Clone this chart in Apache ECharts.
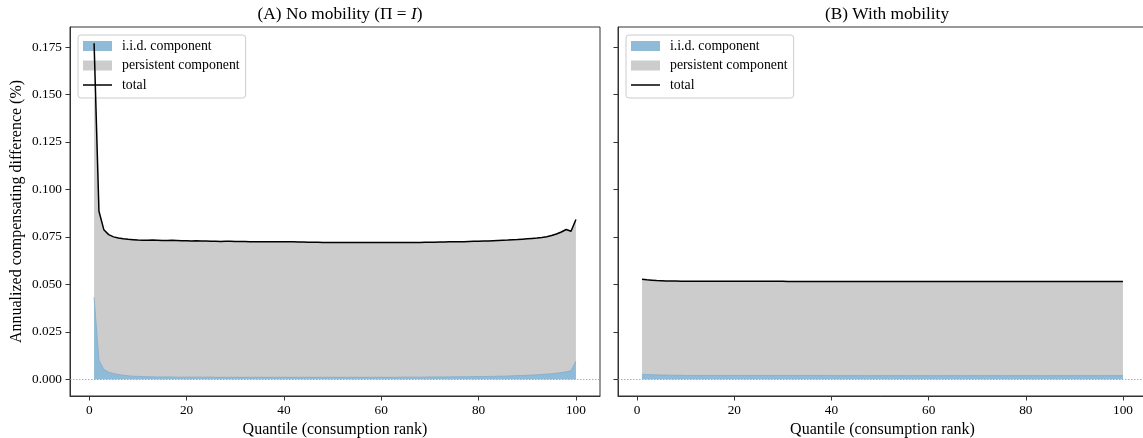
<!DOCTYPE html>
<html>
<head>
<meta charset="utf-8">
<script src="https://cdn.jsdelivr.net/npm/echarts@6/dist/echarts.min.js"></script>
<style>html,body{margin:0;padding:0;background:#fff;overflow:hidden}#c{width:1143px;height:438px}</style>
</head>
<body>
<div id="c"></div>
<script>
const quantiles = [1,2,3,4,5,6,7,8,9,10,11,12,13,14,15,16,17,18,19,20,21,22,23,24,25,26,27,28,29,30,31,32,33,34,35,36,37,38,39,40,41,42,43,44,45,46,47,48,49,50,51,52,53,54,55,56,57,58,59,60,61,62,63,64,65,66,67,68,69,70,71,72,73,74,75,76,77,78,79,80,81,82,83,84,85,86,87,88,89,90,91,92,93,94,95,96,97,98,99,100];

const leftTotal = [0.1770,0.0885,0.0788,0.0762,0.0750,0.0744,0.0740,0.0737,0.0735,0.0733,
0.0732,0.0732,0.0733,0.0732,0.0731,0.0731,0.0732,0.0731,0.0730,0.0730,
0.0729,0.0730,0.0729,0.0728,0.0727,0.0727,0.0726,0.0727,0.0727,0.0726,
0.0726,0.0726,0.0725,0.0724,0.0724,0.0725,0.0725,0.0725,0.0725,0.0725,
0.0724,0.0724,0.0723,0.0723,0.0722,0.0722,0.0722,0.0721,0.0721,0.0721,
0.0720,0.0720,0.0720,0.0720,0.0720,0.0720,0.0720,0.0720,0.0720,0.0720,
0.0720,0.0720,0.0720,0.0720,0.0721,0.0721,0.0721,0.0721,0.0722,0.0722,
0.0722,0.0723,0.0723,0.0724,0.0724,0.0725,0.0725,0.0726,0.0727,0.0727,
0.0728,0.0729,0.0730,0.0731,0.0732,0.0733,0.0735,0.0736,0.0738,0.0740,
0.0742,0.0744,0.0747,0.0751,0.0757,0.0765,0.0776,0.0789,0.0780,0.0842];

const leftIid = [0.0432,0.0100,0.0052,0.0037,0.0030,0.0025,0.0021,0.0018,0.0016,0.0015,
0.0014,0.0013,0.0013,0.0012,0.0012,0.0012,0.0012,0.0011,0.0011,0.0011,
0.0011,0.0011,0.0011,0.0011,0.0011,0.0010,0.0010,0.0010,0.0010,0.0010,
0.0010,0.0010,0.0010,0.0010,0.0010,0.0010,0.0010,0.0010,0.0010,0.0010,
0.0010,0.0010,0.0010,0.0010,0.0010,0.0010,0.0010,0.0010,0.0010,0.0010,
0.0010,0.0010,0.0010,0.0010,0.0010,0.0010,0.0010,0.0010,0.0010,0.0010,
0.0010,0.0010,0.0010,0.0011,0.0011,0.0011,0.0011,0.0011,0.0011,0.0012,
0.0012,0.0012,0.0012,0.0012,0.0013,0.0013,0.0013,0.0013,0.0014,0.0014,
0.0014,0.0015,0.0015,0.0016,0.0016,0.0017,0.0018,0.0019,0.0020,0.0021,
0.0022,0.0023,0.0025,0.0027,0.0029,0.0032,0.0035,0.0039,0.0045,0.0096];

const rightTotal = [0.0527,0.0524,0.0522,0.0520,0.0519,0.0518,0.0517,0.0517,0.0516,0.0516,
0.0516,0.0516,0.0516,0.0516,0.0516,0.0516,0.0516,0.0516,0.0516,0.0516,
0.0516,0.0516,0.0516,0.0516,0.0516,0.0516,0.0516,0.0516,0.0516,0.0516,
0.0515,0.0515,0.0515,0.0515,0.0515,0.0515,0.0515,0.0515,0.0515,0.0515,
0.0515,0.0515,0.0515,0.0515,0.0515,0.0515,0.0515,0.0515,0.0515,0.0515,
0.0515,0.0515,0.0515,0.0515,0.0515,0.0515,0.0515,0.0515,0.0515,0.0515,
0.0515,0.0515,0.0515,0.0515,0.0515,0.0515,0.0515,0.0515,0.0515,0.0515,
0.0515,0.0515,0.0515,0.0515,0.0515,0.0515,0.0515,0.0515,0.0515,0.0515,
0.0515,0.0515,0.0515,0.0515,0.0515,0.0515,0.0515,0.0515,0.0515,0.0515,
0.0515,0.0515,0.0515,0.0515,0.0515,0.0515,0.0515,0.0515,0.0515,0.0515];

const rightIid = [0.0026,0.0025,0.0024,0.0023,0.0022,0.0022,0.0021,0.0021,0.0021,0.0020,
0.0020,0.0020,0.0020,0.0020,0.0020,0.0020,0.0020,0.0020,0.0020,0.0020,
0.0020,0.0020,0.0020,0.0020,0.0020,0.0020,0.0020,0.0020,0.0020,0.0020,
0.0020,0.0020,0.0020,0.0020,0.0020,0.0020,0.0020,0.0020,0.0020,0.0019,
0.0019,0.0019,0.0019,0.0019,0.0019,0.0019,0.0019,0.0019,0.0019,0.0019,
0.0019,0.0019,0.0019,0.0019,0.0019,0.0019,0.0019,0.0019,0.0019,0.0019,
0.0019,0.0019,0.0019,0.0019,0.0019,0.0019,0.0019,0.0019,0.0019,0.0019,
0.0019,0.0019,0.0019,0.0019,0.0019,0.0019,0.0019,0.0019,0.0019,0.0019,
0.0019,0.0019,0.0019,0.0019,0.0019,0.0019,0.0019,0.0019,0.0019,0.0019,
0.0019,0.0019,0.0019,0.0019,0.0019,0.0019,0.0019,0.0019,0.0019,0.0019];

const xTicks = [0,20,40,60,80,100];
const yTicks = [0,0.025,0.05,0.075,0.1,0.125,0.15,0.175];
const titles = ['(A) No mobility (Π = {it|I})', '(B) With mobility'];
const seriesNames = ['i.i.d. component','persistent component','total'];
const xName = 'Quantile (consumption rank)';
const yName = 'Annualized compensating difference (%)';

const FONT = "'Liberation Serif','DejaVu Serif',serif";
const BLUE = '#8fbbd9', GRAY = '#cccccc', AX = '#333333';
const pairs = (vals) => quantiles.map((q,i)=>[q, vals[i]]);

function xAxis(gi){
  return {
    type:'value', gridIndex:gi, min:-3.95, max:104.95,
    name: xName, nameLocation:'middle', nameGap:26,
    nameTextStyle:{fontFamily:FONT, fontSize:16, color:'#000'},
    axisLine:{show:true, onZero:false, lineStyle:{color:AX, width:1}},
    axisTick:{show:true, length:4.5, customValues:xTicks, lineStyle:{color:AX}},
    axisLabel:{customValues:xTicks, margin:8, fontFamily:FONT, fontSize:13.3, color:'#000'},
    splitLine:{show:false}
  };
}
function yAxis(gi, showLabels){
  return {
    type:'value', gridIndex:gi, min:-0.00884, max:0.1856,
    name: showLabels ? yName : '', nameLocation:'middle', nameGap:45, nameRotate:90,
    nameTextStyle:{fontFamily:FONT, fontSize:16, color:'#000'},
    axisLine:{show:true, onZero:false, lineStyle:{color:AX, width:1}},
    axisTick:{show:true, length:4.5, customValues:yTicks, lineStyle:{color:AX}},
    axisLabel:{show:showLabels, customValues:yTicks, margin:8, fontFamily:FONT, fontSize:13.3, color:'#000',
      formatter:(v)=>v.toFixed(3)},
    splitLine:{show:false}
  };
}
function legend(left){
  return {
    left:left, top:35, orient:'vertical', selectedMode:false,
    padding:[4,6,6,5], itemGap:5.5, itemWidth:29, itemHeight:10,
    backgroundColor:'rgba(255,255,255,0.8)', borderColor:'#cccccc', borderWidth:1, borderRadius:3,
    textStyle:{fontFamily:FONT, fontSize:13.8, color:'#000', lineHeight:14, padding:[0,0,0,5]},
    itemStyle:{borderWidth:0},
    data:[
      {name:seriesNames[0], icon:'rect', itemStyle:{color:BLUE, borderWidth:0}},
      {name:seriesNames[1], icon:'rect', itemStyle:{color:GRAY, borderWidth:0}},
      {name:seriesNames[2], icon:'path://M0,0H29V1.5H0Z', itemStyle:{color:'#000', borderWidth:0}}
    ]
  };
}
function panelSeries(gi, total, iid){
  return [
    {name:seriesNames[1], type:'line', xAxisIndex:gi, yAxisIndex:gi, data:pairs(total), symbol:'none',
     color:GRAY, lineStyle:{width:0, color:GRAY}, areaStyle:{color:GRAY, opacity:1}, z:2, silent:true},
    {name:seriesNames[0], type:'line', xAxisIndex:gi, yAxisIndex:gi, data:pairs(iid), symbol:'none',
     color:BLUE, lineStyle:{width:0.8, color:'#84abc8'}, areaStyle:{color:BLUE, opacity:1}, z:3, silent:true},
    {name:seriesNames[2], type:'line', xAxisIndex:gi, yAxisIndex:gi, data:pairs(total), symbol:'none',
     color:'#000', lineStyle:{width:1.5, color:'#000'}, z:4, silent:true,
     markLine:{silent:true, symbol:'none', label:{show:false}, animation:false,
       lineStyle:{type:[1.5,1.5], color:'#999999', width:0.8},
       data:[{yAxis:0}]}}
  ];
}

const chart = echarts.init(document.getElementById('c'), null, {renderer:'canvas'});
chart.setOption({
  animation:false,
  backgroundColor:'#ffffff',
  title:[
    {text:titles[0], left:335, top:1, textAlign:'center',
     textStyle:{fontFamily:FONT, fontSize:17.3, fontWeight:'normal', color:'#000',
       rich:{it:{fontFamily:FONT, fontSize:17.3, fontStyle:'italic', color:'#000'}}}},
    {text:titles[1], left:882, top:1, textAlign:'center',
     textStyle:{fontFamily:FONT, fontSize:17.3, fontWeight:'normal', color:'#000'}}
  ],
  legend:[legend(78), legend(626)],
  grid:[
    {left:70, top:27, width:530, height:369, show:true, borderColor:AX, borderWidth:1, backgroundColor:'transparent', containLabel:false, outerBoundsMode:'none'},
    {left:618, top:27, width:529, height:369, show:true, borderColor:AX, borderWidth:1, backgroundColor:'transparent', containLabel:false, outerBoundsMode:'none'}
  ],
  xAxis:[xAxis(0), xAxis(1)],
  yAxis:[yAxis(0,true), yAxis(1,false)],
  series:[].concat(panelSeries(0, leftTotal, leftIid), panelSeries(1, rightTotal, rightIid))
});
</script>
</body>
</html>
